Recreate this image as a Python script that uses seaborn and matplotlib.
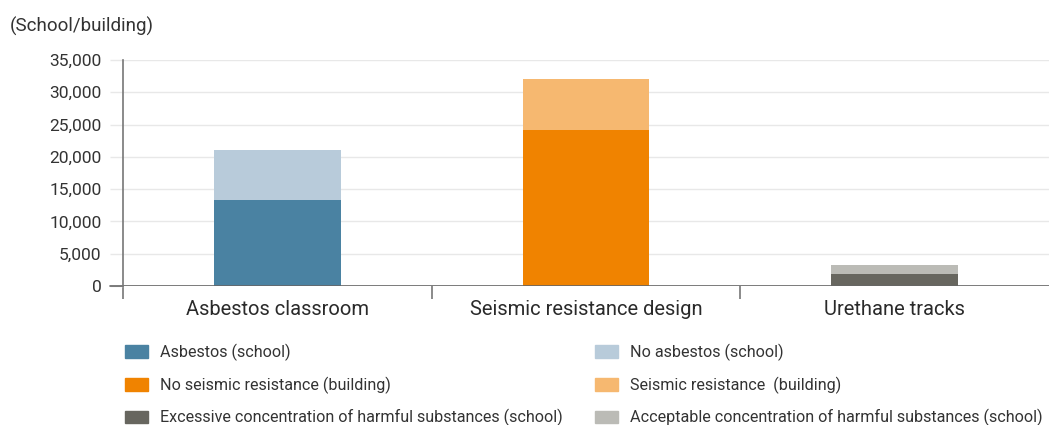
import matplotlib
matplotlib.use("Agg")
import matplotlib.pyplot as plt
import matplotlib.patches as mpatches
from matplotlib.ticker import FuncFormatter
import seaborn as sns
import pandas as pd

categories = ["Asbestos classroom", "Seismic resistance design", "Urethane tracks"]
lower_vals = [13300, 24100, 1900]
upper_vals = [7700, 7900, 1400]
lower_labels = ["Asbestos (school)", "No seismic resistance (building)",
                "Excessive concentration of harmful substances (school)"]
upper_labels = ["No asbestos (school)", "Seismic resistance  (building)",
                "Acceptable concentration of harmful substances (school)"]
lower_colors = ["#4A82A2", "#F08300", "#67665F"]
upper_colors = ["#B8CBDA", "#F6B870", "#BBBBB6"]
y_ticks = [0, 5000, 10000, 15000, 20000, 25000, 30000, 35000]

sns.set_theme(style="white")
plt.rcParams["font.family"] = ["Roboto", "DejaVu Sans"]

df = pd.DataFrame({"cat": categories, "lower": lower_vals,
                   "total": [a + b for a, b in zip(lower_vals, upper_vals)]})

fig = plt.figure(figsize=(10.49, 4.25), dpi=100)
ax = fig.add_axes([123 / 1049, (425 - 286) / 425, 1 - 123 / 1049, 226 / 425])

sns.barplot(data=df, x="cat", y="total", hue="cat", palette=upper_colors,
            width=0.41, legend=False, ax=ax, saturation=1, zorder=3,
            linewidth=0)
sns.barplot(data=df, x="cat", y="lower", hue="cat", palette=lower_colors,
            width=0.41, legend=False, ax=ax, saturation=1, zorder=3,
            linewidth=0)

ax.set_xlim(-0.5, 2.5)
ax.set_ylim(0, 35000)
ax.set_yticks(y_ticks)
ax.yaxis.set_major_formatter(FuncFormatter(lambda v, p: f"{int(v):,}"))
ax.grid(axis="y", color="#E8E8E8", linewidth=1, zorder=0)
ax.set_xlabel("")
ax.set_ylabel("")

for s in ["top", "right", "bottom"]:
    ax.spines[s].set_visible(False)
ax.spines["left"].set_color("#777777")
ax.spines["left"].set_linewidth(1.2)
ax.spines["left"].set_zorder(4)

ax.tick_params(axis="y", length=9.4, width=1, color="#E8E8E8", labelsize=12.5,
               labelcolor="#333333", pad=6, left=True)
ax.tick_params(axis="x", which="major", length=0, labelsize=14.5,
               labelcolor="#2a2a2a", pad=10)
ax.set_xticks([-0.5, 0.5, 1.5], minor=True)
ax.tick_params(axis="x", which="minor", length=9, width=1.2, color="#777777",
               bottom=True)

ax.axhline(0, color="#666666", linewidth=1.2, zorder=4)
ax.plot([-13 / 926, 0], [0, 0], transform=ax.transAxes, color="#666666",
        linewidth=1.2, clip_on=False, zorder=4)

fig.text(10 / 1049, 1 - 26 / 425, "(School/building)", fontsize=13.5,
         color="#333333", va="center", ha="left")

h1 = [mpatches.Patch(color=c, label=l) for c, l in zip(lower_colors, lower_labels)]
h2 = [mpatches.Patch(color=c, label=l) for c, l in zip(upper_colors, upper_labels)]
legfont = {"family": ["Roboto", "DejaVu Sans"], "size": 11.6}
for handles, x0 in [(h1, 125 / 1049), (h2, 595 / 1049)]:
    lg = fig.legend(handles=handles, loc="upper left",
                    bbox_to_anchor=(x0, 1 - 344 / 425), frameon=False,
                    prop=legfont, handlelength=1.4, handleheight=0.85,
                    handletextpad=0.75, labelspacing=0.95, borderaxespad=0,
                    borderpad=0)
    for t in lg.get_texts():
        t.set_color("#333333")

fig.savefig("out.png", dpi=100)
